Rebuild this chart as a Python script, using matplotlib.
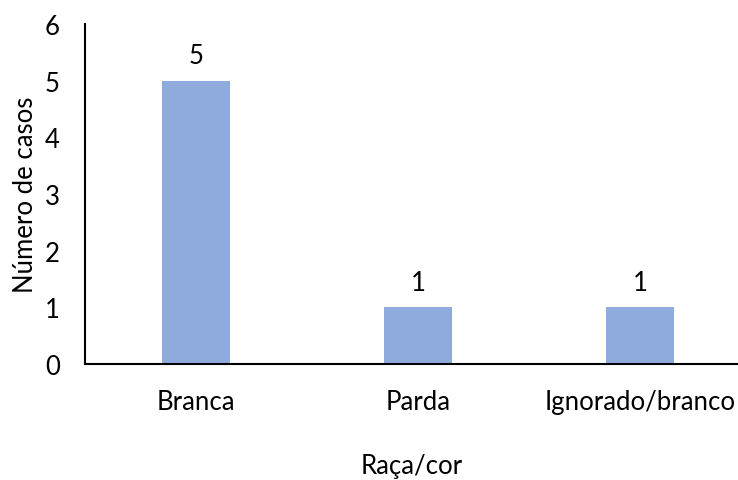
import matplotlib
matplotlib.use("Agg")
import matplotlib.pyplot as plt

categorias = ["Branca", "Parda", "Ignorado/branco"]
casos = [5, 1, 1]
yticks = [0, 1, 2, 3, 4, 5, 6]

plt.rcParams["font.family"] = ["Lato", "DejaVu Sans"]
fs = 18.5

fig = plt.figure(figsize=(7.38, 4.81), dpi=100)
ax = fig.add_axes([85 / 738, 116 / 481, 653 / 738, 340 / 481])

x = list(range(len(categorias)))
bars = ax.bar(x, casos, width=0.31, color="#8FAADC")
for b, v in zip(bars, casos):
    ax.annotate(str(v), (b.get_x() + b.get_width() / 2, v), xytext=(0, 9),
                textcoords="offset points", ha="center", va="bottom", fontsize=fs)

ax.set_xlim(-0.5, 2.5 - 13 / 222)
ax.set_ylim(0, 6)
ax.set_yticks(yticks)
ax.set_xticks(x)
ax.set_xticklabels(categorias)
ax.tick_params(axis="both", length=0, labelsize=fs)
ax.tick_params(axis="y", pad=18)
ax.tick_params(axis="x", pad=18)

for s in ["top", "right"]:
    ax.spines[s].set_visible(False)
for s in ["left", "bottom"]:
    ax.spines[s].set_linewidth(1.5)

ax.set_xlabel("Raça/cor", fontsize=fs, labelpad=28)
ax.set_ylabel("Número de casos", fontsize=fs, labelpad=5)

fig.savefig("out.png", dpi=100)
